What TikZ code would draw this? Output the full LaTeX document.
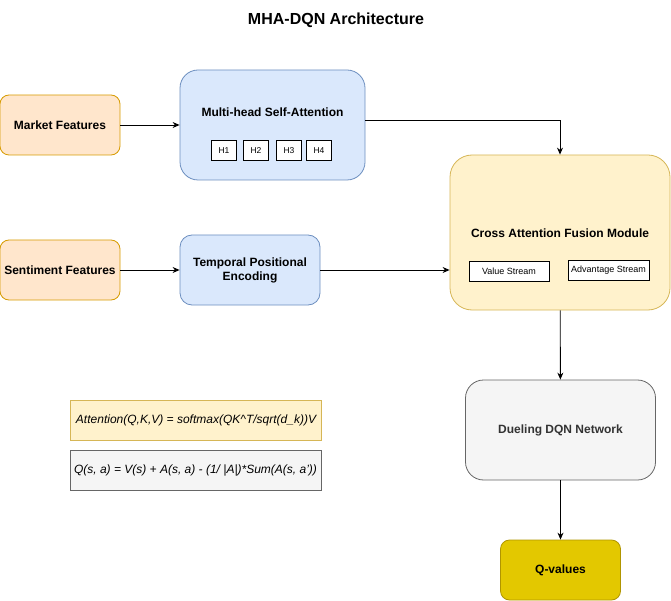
\documentclass[tikz,border=0pt]{standalone}
\usepackage{fontspec}
\setmainfont{Liberation Sans}
\usetikzlibrary{arrows.meta}
\definecolor{orangefill}{HTML}{FFE6CC}
\definecolor{orangeline}{HTML}{D79B00}
\definecolor{bluefill}{HTML}{DAE8FC}
\definecolor{blueline}{HTML}{6C8EBF}
\definecolor{yellowfill}{HTML}{FFF2CC}
\definecolor{yellowline}{HTML}{D6B656}
\definecolor{grayfill}{HTML}{F5F5F5}
\definecolor{grayline}{HTML}{666666}
\definecolor{graytext}{HTML}{333333}
\definecolor{goldfill}{HTML}{E3C800}
\definecolor{goldline}{HTML}{B09500}

\begin{document}
\begin{tikzpicture}[x=1pt, y=-1pt,
    block/.style = {draw, line width=0.8pt, rounded corners=9pt, inner sep=0pt, align=center, font=\fontsize{12}{14}\selectfont\bfseries},
    boxtitle/.style = {inner sep=0pt, font=\fontsize{12}{14}\selectfont\bfseries},
    head/.style = {draw, line width=0.8pt, fill=white, inner sep=0pt, minimum width=25pt, minimum height=20pt, font=\fontsize{8.5}{10}\selectfont},
    stream/.style = {draw, line width=0.8pt, fill=white, inner sep=0pt, minimum height=20pt, font=\fontsize{9}{11}\selectfont},
    formula/.style = {draw, line width=0.8pt, inner sep=0pt, minimum width=251pt, minimum height=40pt, font=\fontsize{12}{14}\selectfont\itshape},
    arrow/.style = {-{Stealth[length=7pt,width=6pt]}, line width=0.9pt}]
  \useasboundingbox (0,0) rectangle (671,601);
  \node[font=\fontsize{16}{19}\selectfont\bfseries] (title) at (336,20) {MHA-DQN Architecture};
  \node[block, fill=orangefill, draw=orangeline, minimum width=120pt, minimum height=60pt] (market) at (60,125) {Market Features};
  \node[block, fill=orangefill, draw=orangeline, minimum width=120pt, minimum height=60pt] (sentiment) at (60,270) {Sentiment Features};
  \node[block, fill=bluefill, draw=blueline, rounded corners=18pt, minimum width=185pt, minimum height=110pt] (mhsa) at (272.5,125) {};
  \node[boxtitle] (mhsatitle) at (272.5,112) {Multi-head Self-Attention};
  \foreach \i/\x in {1/224,2/256,3/289,4/319}
    \node[head] (h\i) at (\x,150.5) {H\i};
  \node[block, fill=bluefill, draw=blueline, rounded corners=12pt, minimum width=140pt, minimum height=70pt] (tpe) at (250,270) {Temporal Positional\\Encoding};
  \node[block, fill=yellowfill, draw=yellowline, rounded corners=22pt, minimum width=220pt, minimum height=155pt] (cross) at (560,232.5) {};
  \node[boxtitle] (crosstitle) at (560,233) {Cross Attention Fusion Module};
  \node[stream, minimum width=80pt] (value) at (509,271.5) {Value Stream};
  \node[stream, minimum width=81pt] (advantage) at (608.5,270) {Advantage Stream};
  \node[block, fill=grayfill, draw=grayline, text=graytext, rounded corners=18pt, minimum width=190pt, minimum height=100pt] (duel) at (560.5,430) {Dueling DQN Network};
  \node[block, fill=goldfill, draw=goldline, minimum width=120pt, minimum height=60pt] (qvalues) at (560.5,570) {Q-values};
  \node[formula, fill=yellowfill, draw=yellowline] (attn) at (196,420) {Attention(Q,K,V) = softmax(QK\textasciicircum T/sqrt(d\_k))V};
  \node[formula, fill=grayfill, draw=grayline] (qform) at (195.5,470) {Q(s, a) = V(s) + A(s, a) - (1/ |A|)*Sum(A(s, a'))};
  \draw[arrow] (market) -- (mhsa);
  \draw[arrow] ([yshift=5pt]mhsa.east) -| (cross);
  \draw[arrow] (sentiment) -- (tpe);
  \draw[arrow] (tpe) -- (tpe -| cross.west);
  \draw[arrow] (cross) -- (duel);
  \draw[arrow] (duel) -- (qvalues);
\end{tikzpicture}
\end{document}
